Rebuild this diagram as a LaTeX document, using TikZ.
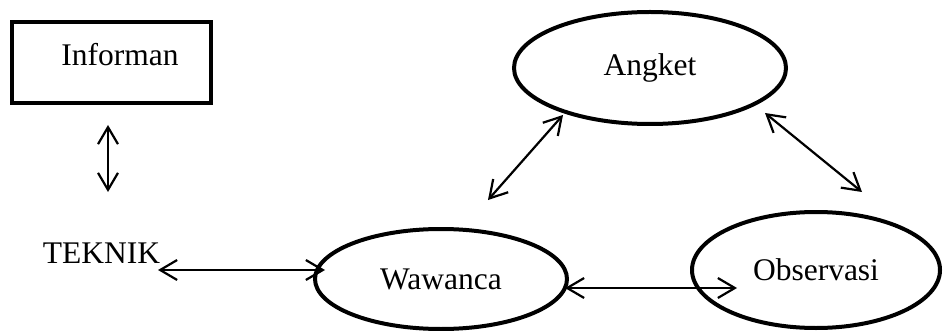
\documentclass[tikz,border=0pt]{standalone}
\usepackage{fontspec}
\setmainfont{Liberation Serif}
\usetikzlibrary{arrows.meta,shapes.geometric}
\begin{document}
\begin{tikzpicture}[x=1pt,y=-1pt,
  lbl/.style={font=\fontsize{31.5}{37}\selectfont, inner sep=0pt},
  oval/.style={ellipse, draw, line width=4pt, inner sep=0pt, font=\fontsize{31.5}{37}\selectfont},
  conn/.style={line width=2.2pt, {Straight Barb[length=17pt,width=20pt]}-{Straight Barb[length=17pt,width=20pt]}}]
\useasboundingbox (0,0) rectangle (944,331);
\node[draw, line width=4.5pt, minimum width=199pt, minimum height=81pt, inner sep=0pt] (box) at (111.5,62.5) {};
\node[lbl] (inf) at (120,55) {Informan};
\node[lbl] (tek) at (101.5,253) {TEKNIK};
\node[oval, minimum width=252pt, minimum height=100pt] (waw) at (441,279) {Wawanca};
\node[oval, minimum width=272pt, minimum height=112pt] (ang) at (650,68) {Angket};
\node[oval, minimum width=248pt, minimum height=116pt] (obs) at (816,270) {Observasi};
\coordinate (v1) at (108,125);
\coordinate (v2) at (108,192);
\coordinate (t1) at (158,270);
\coordinate (t2) at (325,270);
\coordinate (w1) at (565,288);
\coordinate (o1) at (737,288);
\coordinate (a1) at (563,115);
\coordinate (w2) at (488,200);
\coordinate (a2) at (765,113);
\coordinate (o2) at (862,192);
\draw[conn] (v1) -- (v2);
\draw[conn] (t1) -- (t2);
\draw[conn] (w1) -- (o1);
\draw[conn] (a1) -- (w2);
\draw[conn] (a2) -- (o2);
\end{tikzpicture}
\end{document}
